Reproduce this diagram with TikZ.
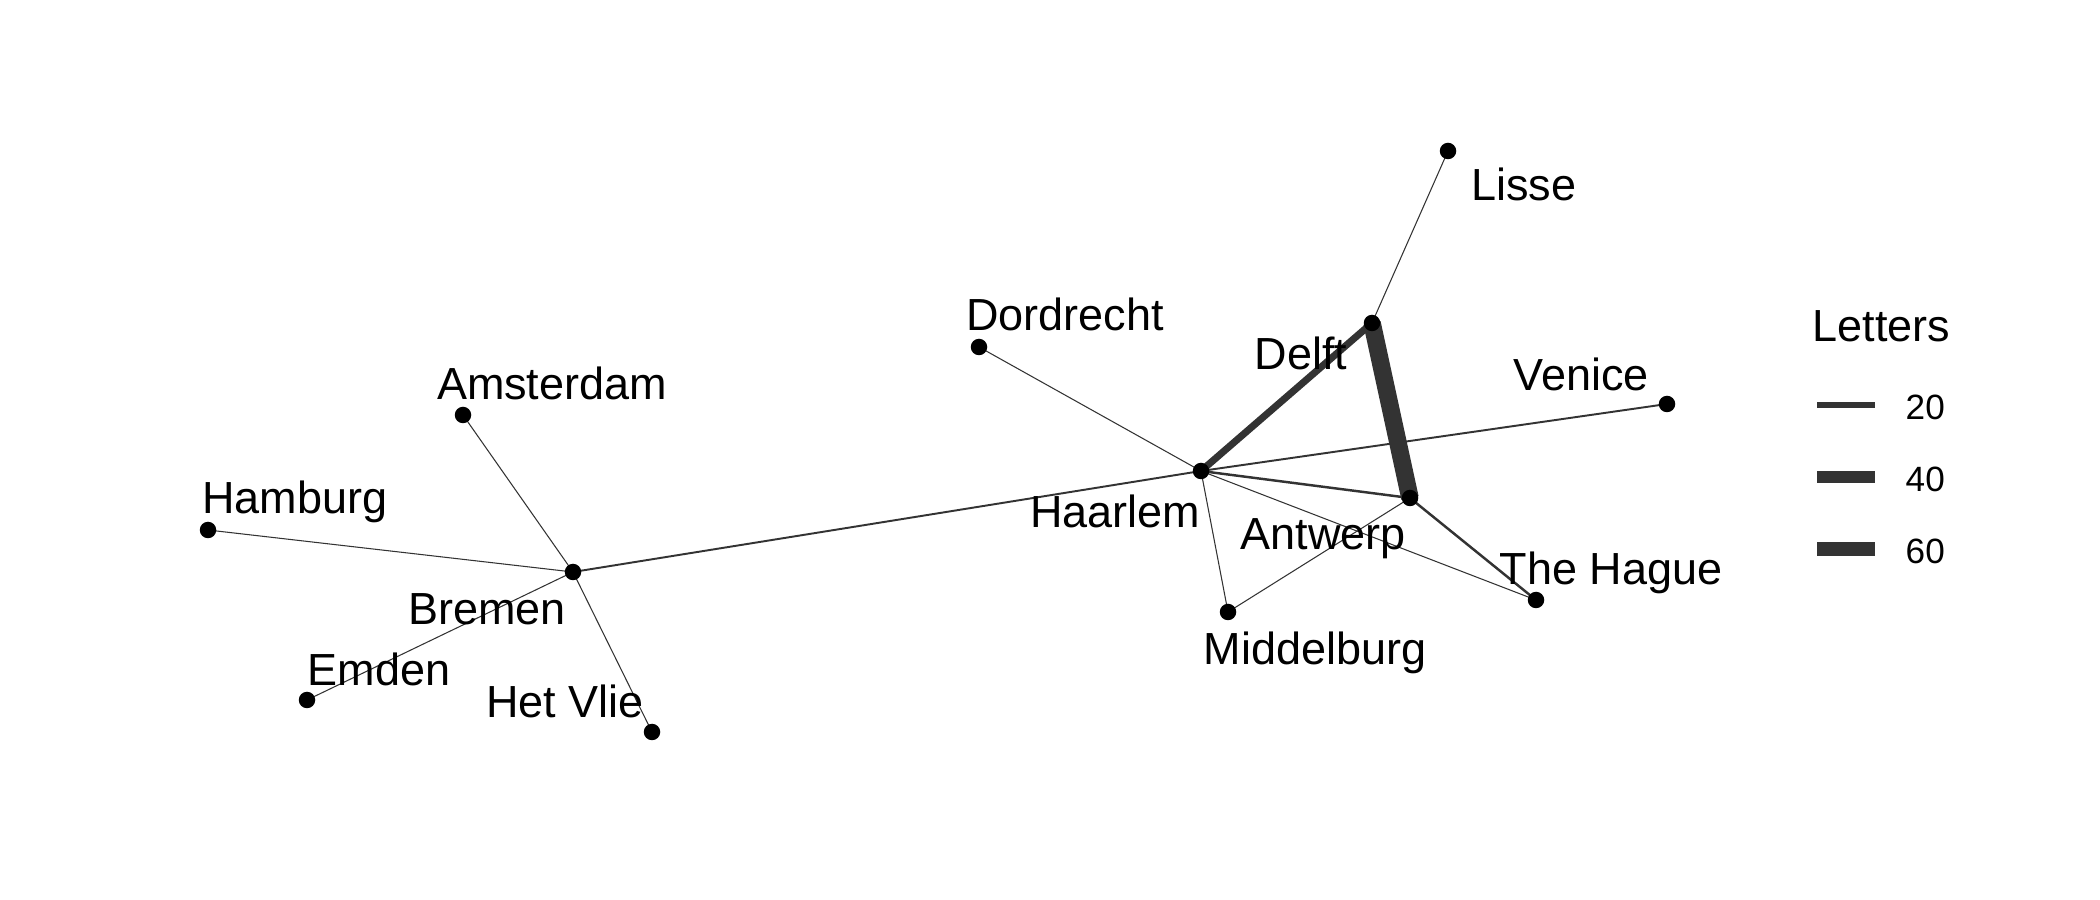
\documentclass[tikz,border=0pt]{standalone}
\definecolor{edgegray}{HTML}{333333}
\usepackage{fontspec}
\setmainfont{Liberation Sans}
\usepackage{tikz}
\usetikzlibrary{backgrounds}

\begin{document}
\begin{tikzpicture}[
    city/.style={circle, fill=black, inner sep=0pt, minimum size=1.65mm},
    citylabel/.style={anchor=base, inner sep=0pt, font=\fontsize{12.8}{15}\selectfont},
    link/.style={edgegray, line width=#1},
    keybar/.style={fill=edgegray, inner sep=0pt, minimum width=5.8mm, minimum height=#1},
    keytext/.style={anchor=base west, inner sep=0pt, font=\fontsize{10}{12}\selectfont}
  ]
    \useasboundingbox (0,0) rectangle (21,9);

    \node[city] (lisse) at (14.48,7.49) {};
    \node[city] (delft) at (13.72,5.77) {};
    \node[city] (dordrecht) at (9.79,5.53) {};
    \node[city] (venice) at (16.67,4.96) {};
    \node[city] (amsterdam) at (4.63,4.85) {};
    \node[city] (haarlem) at (12.01,4.29) {};
    \node[city] (antwerp) at (14.10,4.02) {};
    \node[city] (hamburg) at (2.08,3.70) {};
    \node[city] (bremen) at (5.73,3.28) {};
    \node[city] (hague) at (15.36,3.00) {};
    \node[city] (middelburg) at (12.28,2.88) {};
    \node[city] (emden) at (3.07,2.00) {};
    \node[city] (vlie) at (6.52,1.68) {};

    \node[citylabel] (lisse-l) at (15.24,6.99) {Lisse};
    \node[citylabel] (delft-l) at (13.01,5.30) {Delft};
    \node[citylabel] (dordrecht-l) at (10.65,5.69) {Dordrecht};
    \node[citylabel] (venice-l) at (15.81,5.09) {Venice};
    \node[citylabel] (amsterdam-l) at (5.52,5.00) {Amsterdam};
    \node[citylabel] (haarlem-l) at (11.15,3.72) {Haarlem};
    \node[citylabel] (antwerp-l) at (13.23,3.50) {Antwerp};
    \node[citylabel] (hamburg-l) at (2.95,3.86) {Hamburg};
    \node[citylabel] (bremen-l) at (4.87,2.75) {Bremen};
    \node[citylabel] (hague-l) at (16.11,3.15) {The Hague};
    \node[citylabel] (middelburg-l) at (13.15,2.35) {Middelburg};
    \node[citylabel] (emden-l) at (3.79,2.14) {Emden};
    \node[citylabel] (vlie-l) at (5.65,1.82) {Het Vlie};

    \begin{scope}[on background layer]
    \draw[link=0.3pt] (lisse.center) -- (delft.center);
    \draw[link=2pt] (delft.center) -- (haarlem.center);
    \draw[link=5pt] (delft.center) -- (antwerp.center);
    \draw[link=0.3pt] (dordrecht.center) -- (haarlem.center);
    \draw[link=0.55pt] (haarlem.center) -- (venice.center);
    \draw[link=0.55pt] (haarlem.center) -- (bremen.center);
    \draw[link=0.7pt] (haarlem.center) -- (antwerp.center);
    \draw[link=0.3pt] (haarlem.center) -- (hague.center);
    \draw[link=0.3pt] (haarlem.center) -- (middelburg.center);
    \draw[link=0.3pt] (middelburg.center) -- (antwerp.center);
    \draw[link=0.7pt] (antwerp.center) -- (hague.center);
    \draw[link=0.3pt] (bremen.center) -- (amsterdam.center);
    \draw[link=0.3pt] (bremen.center) -- (hamburg.center);
    \draw[link=0.3pt] (bremen.center) -- (emden.center);
    \draw[link=0.3pt] (bremen.center) -- (vlie.center);
    \end{scope}

    \node[citylabel, anchor=base west] (legend) at (18.12,5.58) {Letters};
    \node[keybar=1.65pt] (k20) at (18.46,4.95) {};
    \node[keybar=3.15pt] (k40) at (18.46,4.23) {};
    \node[keybar=4.25pt] (k60) at (18.46,3.51) {};
    \node[keytext] (t20) at (19.05,4.80) {20};
    \node[keytext] (t40) at (19.05,4.08) {40};
    \node[keytext] (t60) at (19.05,3.36) {60};
  \end{tikzpicture}
\end{document}
